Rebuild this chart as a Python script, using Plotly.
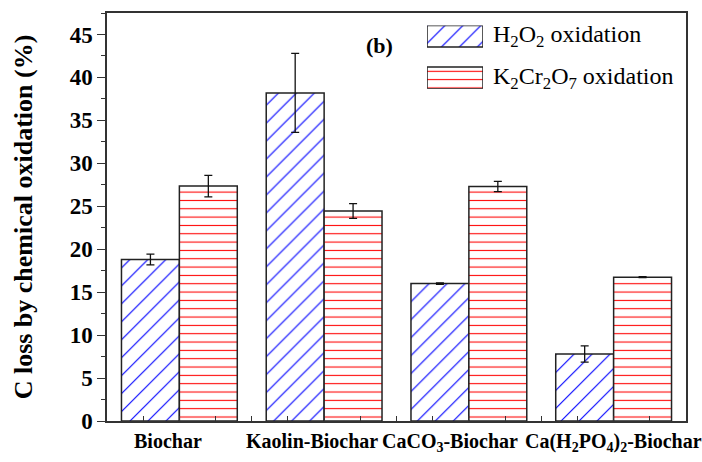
import plotly.graph_objects as go

categories = ["Biochar", "Kaolin-Biochar", "CaCO<sub>3</sub>-Biochar",
              "Ca(H<sub>2</sub>PO<sub>4</sub>)<sub>2</sub>-Biochar"]
h2o2_values = [18.8, 38.2, 16.0, 7.8]
h2o2_errors = [0.62, 4.6, 0.08, 0.95]
k2cr2o7_values = [27.35, 24.45, 27.3, 16.75]
k2cr2o7_errors = [1.25, 0.85, 0.6, 0.05]
series_names = ["H<sub>2</sub>O<sub>2</sub> oxidation",
                "K<sub>2</sub>Cr<sub>2</sub>O<sub>7</sub> oxidation"]
y_ticks = [0, 5, 10, 15, 20, 25, 30, 35, 40, 45]

FONT = "Liberation Serif, Times New Roman, serif"
BLUE = "#0000ff"
RED = "#ff0000"
EDGE = "#222222"
LABEL_XSHIFT = [-11, -12, -19, 0]  # label placement offsets in px (style)

x_pos = list(range(len(categories)))

fig = go.Figure()
fig.add_trace(go.Bar(
    x=x_pos, y=h2o2_values, name=series_names[0],
    marker=dict(color="white", line=dict(color=EDGE, width=1.5),
                pattern=dict(shape="/", fgcolor=BLUE, bgcolor="white",
                             size=12.7, solidity=0.09, fillmode="replace")),
    error_y=dict(type="data", array=h2o2_errors, visible=True,
                 color="#111", thickness=1.3, width=4),
))
fig.add_trace(go.Bar(
    x=x_pos, y=k2cr2o7_values, name=series_names[1],
    marker=dict(color="white", line=dict(color=EDGE, width=1.5),
                pattern=dict(shape="-", fgcolor=RED, bgcolor="white",
                             size=8.33, solidity=0.13, fillmode="replace")),
    error_y=dict(type="data", array=k2cr2o7_errors, visible=True,
                 color="#111", thickness=1.3, width=4),
))

# Legend swatches drawn as a tiny inset bar chart
legend_rank = list(range(len(series_names)))[::-1]
fig.add_trace(go.Bar(
    x=[1] * len(series_names), y=legend_rank, orientation="h", width=0.52,
    xaxis="x2", yaxis="y2", hoverinfo="skip", showlegend=False,
    marker=dict(color="white", line=dict(color=EDGE, width=1.5),
                pattern=dict(shape=["/", "-"], fgcolor=[BLUE, RED], bgcolor="white",
                             size=[12.7, 8.33], solidity=[0.09, 0.13],
                             fillmode="replace")),
))

legend_text_y = [0.9428, 0.8409]
for name, ty in zip(series_names, legend_text_y):
    fig.add_annotation(
        x=0.6627, y=ty, xref="paper", yref="paper", text=name, showarrow=False,
        xanchor="left", yanchor="middle",
        font=dict(family=FONT, size=24, color="black"))

fig.add_annotation(
    x=0.4715, y=0.9204, xref="paper", yref="paper", text="<b>(b)</b>",
    showarrow=False, xanchor="center", yanchor="middle",
    font=dict(family=FONT, size=22, color="black"))

# Category labels under the x axis
for xp, cat, dx in zip(x_pos, categories, LABEL_XSHIFT):
    fig.add_annotation(
        x=xp, y=0, xref="x", yref="paper", text="<b>%s</b>" % cat,
        showarrow=False, xanchor="center", yanchor="top",
        xshift=dx, yshift=-7,
        font=dict(family=FONT, size=20, color="black"))

fig.update_layout(
    width=702, height=462,
    margin=dict(l=107, r=16, t=12.5, b=41),
    paper_bgcolor="white", plot_bgcolor="white",
    barmode="group", bargap=0.2, bargroupgap=0,
    showlegend=False,
    font=dict(family=FONT, color="black"),
    xaxis=dict(
        range=[-0.5, 3.5], tickvals=x_pos, showticklabels=False,
        automargin=False,
        ticks="inside", ticklen=5, tickcolor="#333", tickwidth=1,
        minor=dict(dtick=0.25, tick0=0, ticks="inside", ticklen=5,
                   tickcolor="#333", tickwidth=1),
        showline=True, linecolor="#333", linewidth=1.5, mirror=True,
        showgrid=False, zeroline=False, fixedrange=True,
    ),
    yaxis=dict(
        range=[0, 47.5], tickvals=y_ticks,
        ticktext=["<b>%d</b>" % v for v in y_ticks],
        tickfont=dict(family=FONT, size=23, color="black"),
        ticks="outside", ticklen=8, tickcolor="#333", tickwidth=1,
        minor=dict(dtick=2.5, ticks="outside", ticklen=4,
                   tickcolor="#333", tickwidth=1),
        showline=True, linecolor="#333", linewidth=1.5, mirror=True,
        showgrid=False, zeroline=False, automargin=False,
        title=dict(text="<b>C loss by chemical oxidation (%)</b>",
                   font=dict(family=FONT, size=26, color="black"), standoff=30),
    ),
    xaxis2=dict(domain=[0.5527, 0.6494], range=[0, 1], anchor="y2",
                visible=False, fixedrange=True),
    yaxis2=dict(domain=[0.8145, 0.9694], range=[-0.26, 1.26], anchor="x2",
                visible=False, fixedrange=True),
)

fig.write_html("out.html")
